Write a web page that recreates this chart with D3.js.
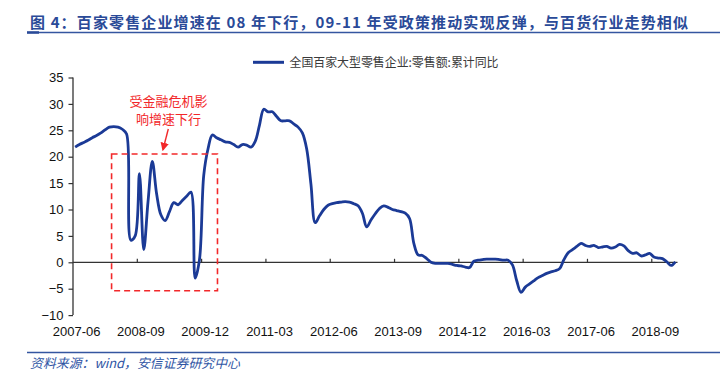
<!DOCTYPE html>
<html><head><meta charset="utf-8">
<script src="https://cdn.jsdelivr.net/npm/d3@7"></script>
<style>body{margin:0;background:#fff}svg{display:block}</style>
</head><body>
<svg id="c" width="722" height="381"></svg>
<script>
const titleText = "图 4：百家零售企业增速在 08 年下行，09-11 年受政策推动实现反弹，与百货行业走势相似";
const sourceText = "资料来源：wind，安信证券研究中心";
const seriesName = "全国百家大型零售企业:零售额:累计同比";
const annoLines = ["受金融危机影", "响增速下行"];
const yTicks = [-10, -5, 0, 5, 10, 15, 20, 25, 30, 35];
const startYear = 2007, startMonth = 6, nMonths = 141;
const values = [
 21.8,22.3,22.7,23.1,23.6,24.0,24.5,25.1,25.6,25.7,
 25.6,25.2,24.3,4.2,5.0,16.8,2.4,11.5,19.1,13.0,
 9.0,7.9,9.6,11.3,10.9,11.7,12.5,13.3,-3.0,0.5,
 16.5,21.5,24.1,23.6,23.2,22.8,22.7,22.3,21.8,22.3,
 22.2,21.8,22.9,26.0,29.0,28.5,28.5,27.6,26.8,26.8,
 26.8,26.2,25.6,24.5,21.5,14.8,7.5,8.8,10.0,10.8,
 11.1,11.3,11.4,11.5,11.4,11.1,10.7,9.3,6.7,8.0,
 9.2,10.2,10.7,10.4,10.0,9.8,9.6,9.3,8.3,3.6,
 1.4,1.3,0.7,0.0,-0.2,-0.2,-0.2,-0.2,-0.4,-0.6,
 -0.7,-0.9,-1.0,0.2,0.4,0.5,0.6,0.6,0.6,0.5,
 0.4,0.4,-0.5,-3.5,-5.7,-4.7,-4.1,-3.5,-2.9,-2.5,
 -2.1,-1.8,-1.6,-1.2,0.5,1.8,2.4,3.0,3.6,3.2,
 3.0,3.2,2.8,2.9,3.0,2.7,2.9,3.4,3.1,2.2,
 1.7,1.8,1.2,1.4,1.7,1.0,0.8,0.7,0.1,-0.6,
 0.1
];
const categories = d3.range(nMonths).map(i => {
  const m = startMonth - 1 + i;
  return `${startYear + Math.floor(m / 12)}-${String(m % 12 + 1).padStart(2, "0")}`;
});
const labelEvery = 15;
const xLabels = categories.filter((d, i) => i % labelEvery === 0);
const boxRange = {from: "2008-03", to: "2010-03", top: 20.5, bottom: -5.4};

const svg = d3.select("#c");
const blue = "#1B3A96";
const red = "#F2282A";
const x = d3.scaleBand().domain(categories).range([73, 677.5]);
const bw = x.bandwidth();
const y = d3.scaleLinear().domain([-10, 35]).range([315.1, 77.5]);

// title
svg.append("text").attr("x", 30).attr("y", 28).attr("textLength", 658).attr("lengthAdjust", "spacing")
  .attr("font-family", "Noto Sans CJK SC").attr("font-weight", "bold").attr("font-size", 15)
  .attr("fill", "#2A4A98").text(titleText);
svg.append("line").attr("x1", 27).attr("x2", 720).attr("y1", 32.5).attr("y2", 32.5)
  .attr("stroke", "#3456A0").attr("stroke-width", 1.3);
svg.append("line").attr("x1", 27).attr("x2", 39).attr("y1", 32.5).attr("y2", 32.5)
  .attr("stroke", "#2A4A98").attr("stroke-width", 2.5);

// legend
svg.append("line").attr("x1", 253).attr("x2", 284).attr("y1", 62.3).attr("y2", 62.3)
  .attr("stroke", blue).attr("stroke-width", 3);
svg.append("text").attr("x", 289.5).attr("y", 66.6).attr("textLength", 209).attr("lengthAdjust", "spacingAndGlyphs")
  .attr("font-family", "Noto Sans CJK SC").attr("font-size", 12.5).attr("fill", "#3a3a3a").text(seriesName);

// y axis
const yAxis = d3.axisLeft(y).tickValues(yTicks).tickSize(4.5).tickPadding(5).tickFormat(d3.format("d"));
const gy = svg.append("g").attr("transform", "translate(73,0)").call(yAxis);
gy.select(".domain").attr("stroke", "#333").attr("stroke-width", 1.3).attr("d", `M0,${y(35)}V${y(-10)}`);
gy.selectAll(".tick line").attr("stroke", "#333").attr("stroke-width", 1.2);
gy.selectAll(".tick text").attr("font-family", "Liberation Sans, Arial").attr("font-size", 13).attr("fill", "#111");

// zero line with ticks
svg.append("line").attr("x1", 73).attr("x2", x.range()[1]).attr("y1", y(0)).attr("y2", y(0))
  .attr("stroke", "#333").attr("stroke-width", 1.3);
svg.selectAll(".xt").data(xLabels.slice(1)).enter().append("line")
  .attr("x1", d => x(d)).attr("x2", d => x(d)).attr("y1", y(0)).attr("y2", y(0) - 3.5)
  .attr("stroke", "#333").attr("stroke-width", 1.2);
svg.selectAll(".xl").data(xLabels).enter().append("text")
  .attr("x", d => x(d) + 3.6).attr("y", 335.5).attr("text-anchor", "middle")
  .attr("font-family", "Liberation Sans, Arial").attr("font-size", 13).attr("fill", "#111").text(d => d);

// series line
const line = d3.line().x((d, i) => x(categories[i]) + bw / 2).y(d => y(d)).curve(d3.curveCatmullRom.alpha(0.5));
svg.append("path").datum(values).attr("d", line).attr("fill", "none")
  .attr("stroke", blue).attr("stroke-width", 2.8).attr("stroke-linejoin", "round");

// annotation box
const bx0 = x(boxRange.from), bx1 = x(boxRange.to) + bw * 0.7;
svg.append("rect").attr("x", bx0).attr("y", y(boxRange.top)).attr("width", bx1 - bx0)
  .attr("height", y(boxRange.bottom) - y(boxRange.top)).attr("fill", "none")
  .attr("stroke", red).attr("stroke-width", 1.6).attr("stroke-dasharray", "6,4");
svg.selectAll(".an").data(annoLines).enter().append("text")
  .attr("x", 168.5).attr("y", (d, i) => 106 + i * 18).attr("text-anchor", "middle")
  .attr("font-family", "Noto Sans CJK SC").attr("font-size", 13).attr("fill", red).text(d => d);
const defs = svg.append("defs");
defs.append("marker").attr("id", "ah").attr("viewBox", "0 0 10 10").attr("refX", 8).attr("refY", 5)
  .attr("markerWidth", 6).attr("markerHeight", 6).attr("orient", "auto")
  .append("path").attr("d", "M0,0L10,5L0,10z").attr("fill", red);
svg.append("line").attr("x1", 168.3).attr("y1", 129).attr("x2", 163).attr("y2", 149.5)
  .attr("stroke", red).attr("stroke-width", 1.4).attr("marker-end", "url(#ah)");

// source
svg.append("line").attr("x1", 27).attr("x2", 720).attr("y1", 352.5).attr("y2", 352.5)
  .attr("stroke", "#3456A0").attr("stroke-width", 1.3);
svg.append("text").attr("x", 30).attr("y", 368).attr("textLength", 210).attr("lengthAdjust", "spacingAndGlyphs")
  .attr("font-family", "Noto Sans CJK SC").attr("font-style", "italic").attr("font-size", 13)
  .attr("fill", "#2F55A4").text(sourceText);
</script>
</body></html>
